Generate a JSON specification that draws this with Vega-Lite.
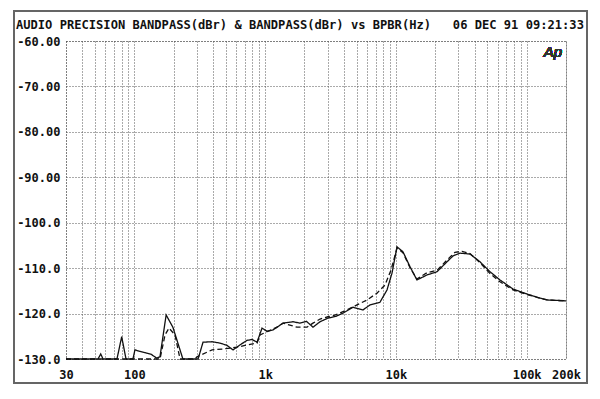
{
  "$schema": "https://vega.github.io/schema/vega-lite/v6.json",
  "width": 500,
  "height": 318,
  "autosize": "none",
  "padding": {"left": 66, "top": 41, "right": 34, "bottom": 40},
  "background": "white",
  "title": {
    "text": "AUDIO PRECISION BANDPASS(dBr) & BANDPASS(dBr) vs BPBR(Hz)\u00a0\u00a0\u00a006 DEC 91 09:21:33",
    "anchor": "start",
    "frame": "group",
    "dx": -50,
    "offset": -31,
    "baseline": "alphabetic",
    "font": "DejaVu Sans Mono",
    "fontSize": 12.1,
    "fontWeight": "bold",
    "color": "#111"
  },
  "config": {
    "view": {"stroke": "#555", "strokeDash": [1, 2], "strokeWidth": 1},
    "axis": {
      "grid": true,
      "gridColor": "#555",
      "gridDash": [1, 2],
      "gridWidth": 1,
      "gridOpacity": 1,
      "domain": false,
      "ticks": false,
      "tickSize": 0,
      "labelFont": "DejaVu Sans Mono",
      "labelFontSize": 12,
      "labelFontWeight": "bold",
      "labelColor": "#111",
      "labelOverlap": false,
      "labelBound": false,
      "labelFlush": false,
      "title": null
    }
  },
  "data": {
    "values": [
      {"trace": "A", "hz": 30, "dBr": -130},
      {"trace": "A", "hz": 52.7, "dBr": -130},
      {"trace": "A", "hz": 55.3, "dBr": -128.9},
      {"trace": "A", "hz": 57.6, "dBr": -130},
      {"trace": "A", "hz": 73.6, "dBr": -130},
      {"trace": "A", "hz": 80, "dBr": -125.1},
      {"trace": "A", "hz": 86.3, "dBr": -130},
      {"trace": "A", "hz": 97.5, "dBr": -130},
      {"trace": "A", "hz": 101, "dBr": -128.0},
      {"trace": "A", "hz": 110, "dBr": -128.3},
      {"trace": "A", "hz": 121, "dBr": -128.6},
      {"trace": "A", "hz": 135, "dBr": -129.0},
      {"trace": "A", "hz": 148, "dBr": -129.8},
      {"trace": "A", "hz": 157, "dBr": -129.5},
      {"trace": "A", "hz": 175, "dBr": -120.3},
      {"trace": "A", "hz": 197, "dBr": -123.0},
      {"trace": "A", "hz": 235, "dBr": -130},
      {"trace": "A", "hz": 300, "dBr": -130},
      {"trace": "A", "hz": 307, "dBr": -130},
      {"trace": "A", "hz": 335, "dBr": -126.3},
      {"trace": "A", "hz": 393, "dBr": -126.2},
      {"trace": "A", "hz": 452, "dBr": -126.5},
      {"trace": "A", "hz": 511, "dBr": -127.0},
      {"trace": "A", "hz": 568, "dBr": -128.0},
      {"trace": "A", "hz": 642, "dBr": -126.9},
      {"trace": "A", "hz": 727, "dBr": -125.9},
      {"trace": "A", "hz": 794, "dBr": -125.7},
      {"trace": "A", "hz": 867, "dBr": -126.3},
      {"trace": "A", "hz": 947, "dBr": -123.2},
      {"trace": "A", "hz": 1033, "dBr": -123.9},
      {"trace": "A", "hz": 1150, "dBr": -123.6},
      {"trace": "A", "hz": 1370, "dBr": -122.1},
      {"trace": "A", "hz": 1635, "dBr": -121.8},
      {"trace": "A", "hz": 1849, "dBr": -122.1},
      {"trace": "A", "hz": 2070, "dBr": -121.7},
      {"trace": "A", "hz": 2323, "dBr": -123.0},
      {"trace": "A", "hz": 2629, "dBr": -121.8},
      {"trace": "A", "hz": 3027, "dBr": -121.0},
      {"trace": "A", "hz": 3483, "dBr": -120.6},
      {"trace": "A", "hz": 3942, "dBr": -119.9},
      {"trace": "A", "hz": 4700, "dBr": -118.6},
      {"trace": "A", "hz": 5601, "dBr": -119.2},
      {"trace": "A", "hz": 6338, "dBr": -118.1},
      {"trace": "A", "hz": 7557, "dBr": -117.5},
      {"trace": "A", "hz": 8553, "dBr": -114.8},
      {"trace": "A", "hz": 9337, "dBr": -111.1},
      {"trace": "A", "hz": 10200, "dBr": -105.3},
      {"trace": "A", "hz": 11330, "dBr": -106.4},
      {"trace": "A", "hz": 12830, "dBr": -109.7},
      {"trace": "A", "hz": 14490, "dBr": -112.6},
      {"trace": "A", "hz": 17300, "dBr": -111.5},
      {"trace": "A", "hz": 20620, "dBr": -110.8},
      {"trace": "A", "hz": 24610, "dBr": -108.6},
      {"trace": "A", "hz": 27360, "dBr": -107.3},
      {"trace": "A", "hz": 30900, "dBr": -106.7},
      {"trace": "A", "hz": 36900, "dBr": -106.9},
      {"trace": "A", "hz": 43980, "dBr": -108.6},
      {"trace": "A", "hz": 52500, "dBr": -110.8},
      {"trace": "A", "hz": 62560, "dBr": -112.6},
      {"trace": "A", "hz": 78710, "dBr": -114.6},
      {"trace": "A", "hz": 100700, "dBr": -115.7},
      {"trace": "A", "hz": 126500, "dBr": -116.6},
      {"trace": "A", "hz": 143200, "dBr": -117.0},
      {"trace": "A", "hz": 200000, "dBr": -117.2},
      {"trace": "B", "hz": 30, "dBr": -130},
      {"trace": "B", "hz": 157, "dBr": -130},
      {"trace": "B", "hz": 171.6, "dBr": -124.7},
      {"trace": "B", "hz": 184, "dBr": -123.2},
      {"trace": "B", "hz": 204.6, "dBr": -124.7},
      {"trace": "B", "hz": 223.5, "dBr": -130},
      {"trace": "B", "hz": 291, "dBr": -130},
      {"trace": "B", "hz": 301, "dBr": -129.5},
      {"trace": "B", "hz": 359, "dBr": -128.5},
      {"trace": "B", "hz": 393, "dBr": -128.0},
      {"trace": "B", "hz": 476, "dBr": -127.8},
      {"trace": "B", "hz": 610, "dBr": -127.4},
      {"trace": "B", "hz": 727, "dBr": -126.9},
      {"trace": "B", "hz": 867, "dBr": -126.5},
      {"trace": "B", "hz": 914, "dBr": -124.7},
      {"trace": "B", "hz": 1033, "dBr": -124.0},
      {"trace": "B", "hz": 1233, "dBr": -123.0},
      {"trace": "B", "hz": 1370, "dBr": -122.1},
      {"trace": "B", "hz": 1754, "dBr": -123.0},
      {"trace": "B", "hz": 2091, "dBr": -123.0},
      {"trace": "B", "hz": 2323, "dBr": -122.1},
      {"trace": "B", "hz": 2629, "dBr": -121.2},
      {"trace": "B", "hz": 3027, "dBr": -120.7},
      {"trace": "B", "hz": 3306, "dBr": -120.5},
      {"trace": "B", "hz": 4227, "dBr": -119.2},
      {"trace": "B", "hz": 5043, "dBr": -118.1},
      {"trace": "B", "hz": 6018, "dBr": -117.0},
      {"trace": "B", "hz": 7173, "dBr": -115.5},
      {"trace": "B", "hz": 8260, "dBr": -113.7},
      {"trace": "B", "hz": 9180, "dBr": -110.4},
      {"trace": "B", "hz": 10200, "dBr": -105.6},
      {"trace": "B", "hz": 11330, "dBr": -106.6},
      {"trace": "B", "hz": 12830, "dBr": -109.9},
      {"trace": "B", "hz": 14490, "dBr": -112.4},
      {"trace": "B", "hz": 17300, "dBr": -111.0},
      {"trace": "B", "hz": 20620, "dBr": -110.5},
      {"trace": "B", "hz": 24610, "dBr": -108.2},
      {"trace": "B", "hz": 28330, "dBr": -106.5},
      {"trace": "B", "hz": 32050, "dBr": -106.3},
      {"trace": "B", "hz": 36900, "dBr": -106.8},
      {"trace": "B", "hz": 43980, "dBr": -108.8},
      {"trace": "B", "hz": 52500, "dBr": -111.2},
      {"trace": "B", "hz": 62560, "dBr": -113.0},
      {"trace": "B", "hz": 78710, "dBr": -114.8},
      {"trace": "B", "hz": 100700, "dBr": -115.8},
      {"trace": "B", "hz": 126500, "dBr": -116.6},
      {"trace": "B", "hz": 143200, "dBr": -117.0},
      {"trace": "B", "hz": 200000, "dBr": -117.2}
    ]
  },
  "encoding": {
    "x": {
      "field": "hz",
      "type": "quantitative",
      "scale": {"type": "log", "domain": [30, 200000], "nice": false},
      "axis": {
        "values": [30, 40, 50, 60, 70, 80, 90, 100, 200, 300, 400, 500, 600, 700, 800, 900, 1000, 2000, 3000, 4000, 5000, 6000, 7000, 8000, 9000, 10000, 20000, 30000, 40000, 50000, 60000, 70000, 80000, 90000, 100000, 200000],
        "labelExpr": "datum.value == 30 ? '30' : datum.value == 100 ? '100' : datum.value == 1000 ? '1k' : datum.value == 10000 ? '10k' : datum.value == 100000 ? '100k' : datum.value == 200000 ? '200k' : ''",
        "labelPadding": 10,
        "labelAlign": "center",
        "labelBaseline": "top"
      }
    },
    "y": {
      "field": "dBr",
      "type": "quantitative",
      "scale": {"domain": [-130, -60], "nice": false, "zero": false},
      "axis": {
        "values": [-130, -120, -110, -100, -90, -80, -70, -60],
        "labelExpr": "datum.value > -100 ? '-' + format(-datum.value, '.2f') : '-' + format(-datum.value, '.1f')",
        "labelPadding": 6
      }
    }
  },
  "layer": [
    {
      "mark": {"type": "line", "color": "#111", "strokeWidth": 1.3, "interpolate": "linear"},
      "encoding": {
        "strokeDash": {
          "field": "trace",
          "type": "nominal",
          "scale": {"domain": ["A", "B"], "range": [[1, 0], [5, 3]]},
          "legend": null
        }
      }
    },
    {
      "mark": {"type": "text", "text": "Ap", "font": "Liberation Sans", "fontStyle": "italic", "fontWeight": "normal", "fontSize": 15, "color": "#333", "align": "center", "baseline": "middle"},
      "encoding": {
        "x": {"datum": 159000},
        "y": {"datum": -62.4}
      }
    },
    {
      "mark": {"type": "rect", "filled": false, "stroke": "#666", "strokeWidth": 1.5},
      "encoding": {
        "x": {"datum": 12},
        "x2": {"datum": 289800},
        "y": {"datum": -53.4},
        "y2": {"datum": -135.28}
      }
    }
  ]
}
